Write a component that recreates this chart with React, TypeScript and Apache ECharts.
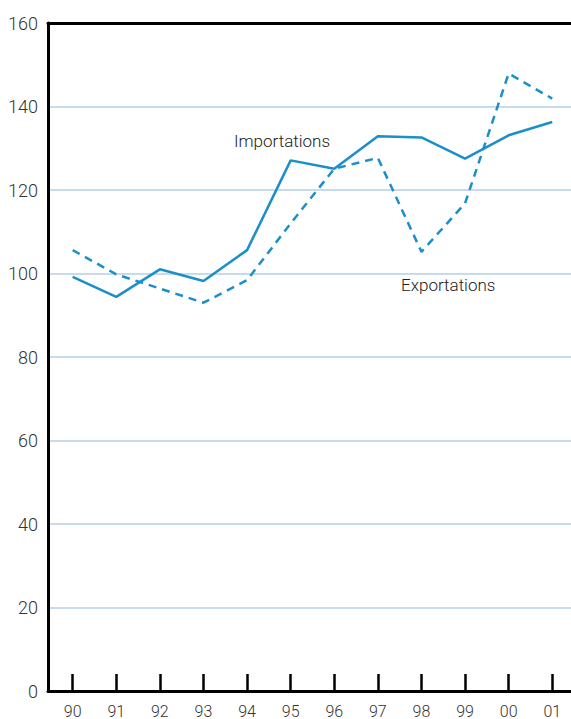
import React, { useEffect, useRef } from "react";
import * as echarts from "echarts";

const categories = ["90", "91", "92", "93", "94", "95", "96", "97", "98", "99", "00", "01"];
const importations = [99.2, 94.4, 101.0, 98.2, 105.6, 127.1, 125.1, 132.9, 132.6, 127.5, 133.1, 136.3];
const exportations = [105.6, 99.8, 96.4, 93.0, 98.4, 112.0, 125.1, 127.7, 105.2, 116.8, 147.9, 141.9];
const yTicks = [0, 20, 40, 60, 80, 100, 120, 140, 160];

const FONT = "Roboto, 'DejaVu Sans Condensed', sans-serif";
const LINE = "#1a8fc9";

export default function App() {
  const ref = useRef<HTMLDivElement>(null);
  useEffect(() => {
    if (!ref.current) return;
    const chart = echarts.init(ref.current, undefined, { renderer: "svg" });
    const idx = categories.map((_, i) => i);
    chart.setOption({
      animation: false,
      grid: { left: 48, right: 0, top: 23, bottom: 28, containLabel: false },
      xAxis: [
        {
          type: "value",
          min: -0.566,
          max: 11.43,
          splitLine: { show: false },
          axisLine: { show: true, onZero: false, lineStyle: { color: "#000", width: 3 } },
          axisTick: {
            show: true,
            inside: true,
            length: 17,
            customValues: idx,
            lineStyle: { color: "#000", width: 2.5 },
          },
          axisLabel: {
            customValues: idx,
            formatter: (v: number) => categories[Math.round(v)] ?? "",
            color: "#333",
            fontSize: 16,
            fontWeight: 300,
            fontFamily: FONT,
            margin: 12,
          },
        },
        {
          type: "value",
          position: "top",
          min: -0.566,
          max: 11.43,
          splitLine: { show: false },
          axisLine: { show: true, onZero: false, lineStyle: { color: "#000", width: 3 } },
          axisTick: { show: false },
          axisLabel: { show: false },
        },
      ],
      yAxis: {
        type: "value",
        min: 0,
        max: 160,
        interval: 20,
        axisLine: { show: true, onZero: false, lineStyle: { color: "#000", width: 3 } },
        axisTick: { show: false },
        axisLabel: {
          color: "#333",
          fontSize: 18,
          fontWeight: 300,
          fontFamily: FONT,
          margin: 10,
          formatter: (v: number) => (yTicks.includes(v) ? String(v) : ""),
        },
        splitLine: { show: true, lineStyle: { color: "#c6dbee", width: 2 } },
      },
      series: [
        {
          name: "Importations",
          type: "line",
          data: importations.map((v, i) => [i, v]),
          symbol: "none",
          lineStyle: { color: LINE, width: 2.5 },
          z: 3,
        },
        {
          name: "Exportations",
          type: "line",
          data: exportations.map((v, i) => [i, v]),
          symbol: "none",
          lineStyle: { color: LINE, width: 2.5, type: [8, 6] },
          z: 3,
        },
      ],
      graphic: [
        {
          type: "text",
          left: 234,
          top: 132,
          style: { text: "Importations", fontSize: 17, fontWeight: 300, fontFamily: FONT, fill: "#222" },
        },
        {
          type: "text",
          left: 401,
          top: 276,
          style: { text: "Exportations", fontSize: 17, fontWeight: 300, fontFamily: FONT, fill: "#222" },
        },
      ],
    });
    return () => chart.dispose();
  }, []);
  return <div ref={ref} style={{ width: 571, height: 719, position: "absolute", left: 0, top: 0 }} />;
}
